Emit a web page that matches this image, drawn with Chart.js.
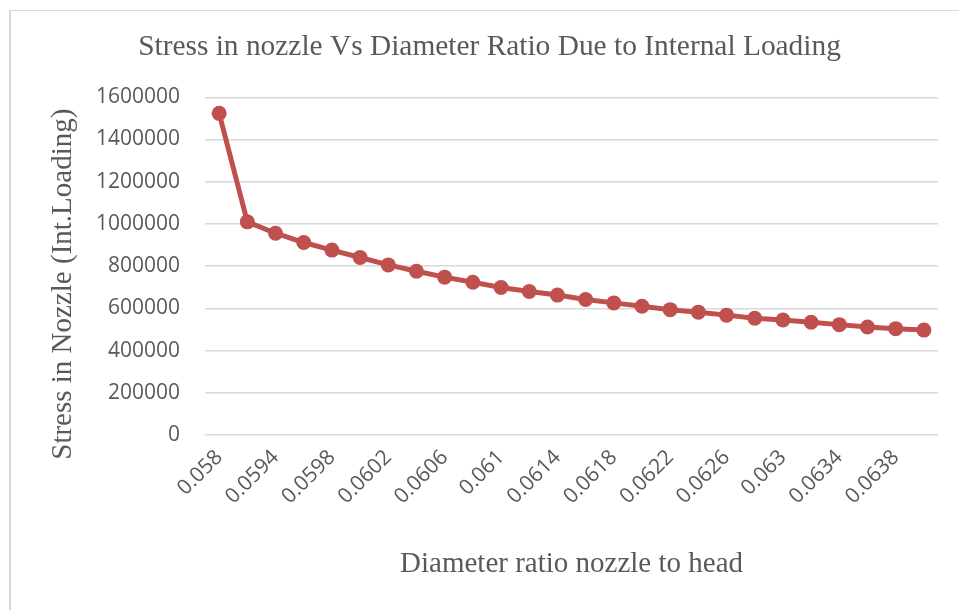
<!DOCTYPE html>
<html>
<head>
<meta charset="utf-8">
<title>Stress in nozzle Vs Diameter Ratio</title>
<script src="https://cdn.jsdelivr.net/npm/chart.js@4/dist/chart.umd.min.js"></script>
<style>
    html, body { margin: 0; padding: 0; background: #fff; }
    #wrap { position: relative; width: 959px; height: 610px; overflow: hidden; }
    #frame { position: absolute; left: 9px; top: 10px; width: 980px; height: 640px;
             border-left: 2px solid #d9d9d9; border-top: 1px solid #d9d9d9; }
    #stressChart { position: absolute; left: 0; top: 0; }
</style>
</head>
<body>
<div id="wrap">
    <div id="frame"></div>
    <canvas id="stressChart" width="959" height="610"></canvas>
</div>
<script>
// Diameter ratio nozzle to head (categories)
const ratioLabels = [
    '0.058', '0.0592', '0.0594', '0.0596', '0.0598', '0.06', '0.0602', '0.0604', '0.0606',
    '0.0608', '0.061', '0.0612', '0.0614', '0.0616', '0.0618', '0.062', '0.0622', '0.0624',
    '0.0626', '0.0628', '0.063', '0.0632', '0.0634', '0.0636', '0.0638', '0.064'
];

// Stress in nozzle due to internal loading
const stressValues = [
    1524000, 1010000, 956000, 912000, 876000, 841000, 806000, 776000, 748000,
    724000, 699000, 680000, 663000, 642000, 626000, 610000, 594000, 582000,
    568000, 553000, 545000, 534000, 523000, 512000, 504000, 497000
];

const yTickMax = 1600000;
const yTickStep = 200000;
const yAxisTitle = 'Stress in Nozzle (Int.Loading)';

const textGray = '#595959';
const lineRed = '#c0504d';
const serifFont = '"Liberation Serif", "Times New Roman", serif';
const sansFont = '"Open Sans", sans-serif';

// Excel puts the vertical axis title a bit below the middle of the plot,
// Chart.js has no offset for it, so it is drawn here instead.
const yTitlePlugin = {
    id: 'yTitle',
    afterDraw(chart) {
        const c = chart.ctx;
        const area = chart.chartArea;
        c.save();
        c.translate(63, (area.top + area.bottom) / 2 + 18);
        c.rotate(-Math.PI / 2);
        c.fillStyle = textGray;
        c.font = '29px ' + serifFont;
        c.textAlign = 'center';
        c.textBaseline = 'middle';
        c.fillText(yAxisTitle, 0, 0);
        c.restore();
    }
};

document.addEventListener('DOMContentLoaded', function () {
    const ctx = document.getElementById('stressChart');

    new Chart(ctx, {
        type: 'line',
        data: {
            labels: ratioLabels,
            datasets: [{
                label: 'Stress',
                data: stressValues,
                borderColor: lineRed,
                backgroundColor: lineRed,
                borderWidth: 5,
                pointRadius: 7.5,
                pointBorderWidth: 0,
                pointBackgroundColor: lineRed,
                tension: 0,
                fill: false
            }]
        },
        plugins: [yTitlePlugin],
        options: {
            responsive: false,
            animation: false,
            layout: { padding: { left: 41, right: 21, top: 30, bottom: 8 } },
            plugins: {
                legend: { display: false },
                tooltip: { enabled: false },
                title: {
                    display: true,
                    text: 'Stress in nozzle Vs Diameter Ratio Due to Internal Loading',
                    color: textGray,
                    font: { family: serifFont, size: 29.4, weight: 'normal' },
                    padding: { top: 0, bottom: 32 }
                }
            },
            scales: {
                x: {
                    offset: true,
                    grid: { display: false, drawTicks: false },
                    border: { display: false },
                    ticks: {
                        color: textGray,
                        font: { family: sansFont, size: 21 },
                        autoSkip: false,
                        maxRotation: 45,
                        minRotation: 45,
                        padding: 10,
                        callback: function (value, index) {
                            return index % 2 === 0 ? this.getLabelForValue(value) : '';
                        }
                    },
                    title: {
                        display: true,
                        text: 'Diameter ratio nozzle to head',
                        color: textGray,
                        font: { family: serifFont, size: 29 },
                        padding: { top: 28, bottom: 20 }
                    }
                },
                y: {
                    min: 0,
                    max: yTickMax,
                    afterFit: function (scale) { scale.width += 30; },
                    grid: { color: '#d9d9d9', lineWidth: 1.5, drawTicks: false },
                    border: { display: false },
                    ticks: {
                        stepSize: yTickStep,
                        color: textGray,
                        font: { family: sansFont, size: 21 },
                        padding: 25,
                        callback: function (value) { return String(value); }
                    }
                }
            }
        }
    });
});
</script>
</body>
</html>
